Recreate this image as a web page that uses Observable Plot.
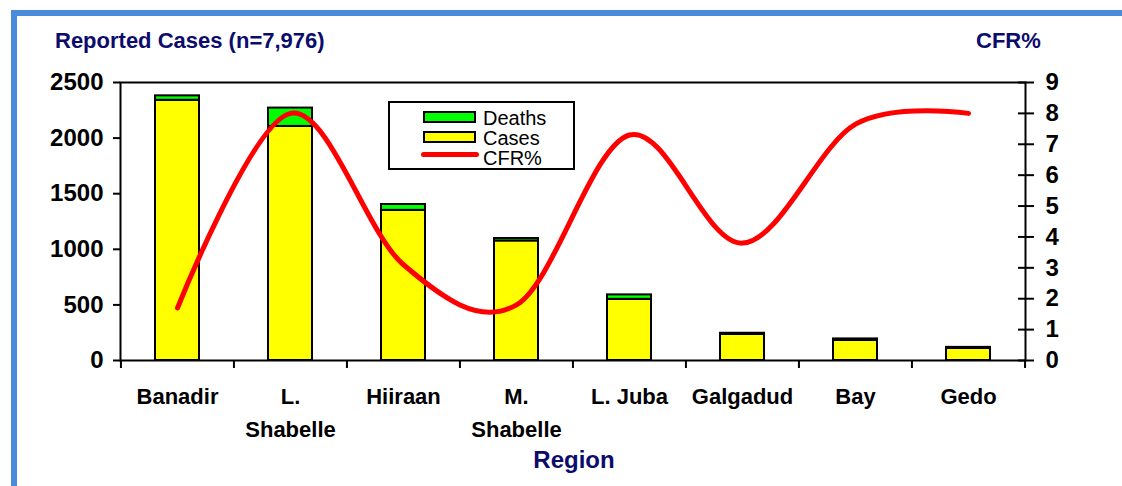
<!DOCTYPE html>
<html>
<head>
<meta charset="utf-8">
<script src="https://cdn.jsdelivr.net/npm/d3@7"></script>
<script src="https://cdn.jsdelivr.net/npm/@observablehq/plot@0.6"></script>
<style>
  html, body { margin: 0; padding: 0; width: 1122px; height: 486px; overflow: hidden; background: #fff; }
  #wrap { position: relative; width: 1122px; height: 486px; font-family: "Liberation Sans", Arial, sans-serif; }
  #frameblue { position: absolute; left: 11px; top: 10px; width: 2000px; height: 2000px; border-left: 6px solid #4a8bdb; border-top: 6px solid #4a8bdb; }
  #chart { position: absolute; left: 0; top: 0; }
  .title { position: absolute; font-weight: bold; color: #0c0c6c; line-height: 1; white-space: nowrap; }
  #legend { position: absolute; left: 388px; top: 101px; width: 183px; height: 65px; border: 2px solid #000; background: #fff; }
  .sw { position: absolute; left: 33px; width: 49px; height: 8px; border: 2px solid #000; }
  .lt { position: absolute; left: 93px; font-size: 20px; line-height: 1; color: #000; }
</style>
</head>
<body>
<div id="wrap">
  <div id="frameblue"></div>
  <div id="chart"></div>
  <div class="title" style="left:55px; top:30px; font-size:22px;">Reported Cases (n=7,976)</div>
  <div class="title" style="left:976px; top:30px; font-size:22px;">CFR%</div>
  <div class="title" style="left:574px; top:448px; font-size:24px; transform: translateX(-50%);">Region</div>
  <div id="legend">
    <div class="sw" style="top:8px; background:#00ff00;"></div>
    <div class="lt" style="top:5px;">Deaths</div>
    <div class="sw" style="top:28px; background:#ffff00;"></div>
    <div class="sw" style="top:49px; height:0; border:0; border-top:5px solid #ff0000; border-radius:3px; left:31px; width:58px;"></div>
    <div class="lt" style="top:25px;">Cases</div>
    <div class="lt" style="top:45px;">CFR%</div>
  </div>
</div>
<script>
// ---- data ----
const regions = ["Banadir", "L. Shabelle", "Hiiraan", "M. Shabelle", "L. Juba", "Galgadud", "Bay", "Gedo"];
const regionLabels = ["Banadir", "L.\nShabelle", "Hiiraan", "M.\nShabelle", "L. Juba", "Galgadud", "Bay", "Gedo"];
const cases  = [2340, 2105, 1350, 1075, 550, 234, 180, 108];
const deaths = [40, 165, 53, 22, 40, 11, 14, 10];
const cfr    = [1.7, 8.0, 3.1, 1.8, 7.3, 3.8, 7.65, 8.0];
const casesTicks = [0, 500, 1000, 1500, 2000, 2500];
const cfrTicks = [0, 1, 2, 3, 4, 5, 6, 7, 8, 9];
const casesMax = 2500, cfrMax = 9;

const rows = regions.map((r, i) => ({region: r, label: regionLabels[i], cases: cases[i], deaths: deaths[i], cfr: cfr[i]}));
const labelOf = new Map(regions.map((r, i) => [r, regionLabels[i]]));
const toCases = v => v * casesMax / cfrMax;

const W = 1122, H = 486, ML = 120, MR = 97, MT = 82, MB = 126;
const step = (W - ML - MR) / regions.length;

const plot = Plot.plot({
  width: W, height: H,
  marginLeft: ML, marginRight: MR, marginTop: MT, marginBottom: MB,
  style: {fontFamily: "'Liberation Sans', Arial, sans-serif", fontWeight: "bold", color: "#000", background: "transparent", overflow: "visible"},
  x: {domain: regions, paddingInner: 0.61, paddingOuter: 0.305, axis: null},
  y: {domain: [0, casesMax], axis: null},
  marks: [
    Plot.frame({stroke: "#000", strokeWidth: 2}),
    Plot.barY(rows, {x: "region", y1: 0, y2: "cases", fill: "#ffff00", stroke: "#000", strokeWidth: 2}),
    Plot.barY(rows, {x: "region", y1: "cases", y2: d => d.cases + d.deaths, fill: "#00ff00", stroke: "#000", strokeWidth: 2}),
    Plot.axisY({anchor: "left", label: null, ticks: casesTicks, tickFormat: d => String(d), tickSize: 7, tickPadding: 10, fontSize: 24, fontWeight: "bold", strokeWidth: 2}),
    Plot.axisY({anchor: "right", label: null, ticks: cfrTicks.map(toCases), tickFormat: d => String(Math.round(d * cfrMax / casesMax)), tickSize: 8, tickPadding: 12, fontSize: 24, fontWeight: "bold", strokeWidth: 2}),
    Plot.axisY({anchor: "right", label: null, ticks: cfrTicks.map(toCases), tickFormat: () => "", tickSize: -8, tickPadding: 0, strokeWidth: 2}),
    Plot.axisX({anchor: "bottom", label: null, tickSize: 0, tickPadding: 20, lineHeight: 1.5, fontSize: 22, fontWeight: "bold", tickFormat: d => labelOf.get(d)}),
    Plot.ruleX(regions, {x: d => d, dx: -step / 2, y1: 0, y2: 0, insetTop: 8, stroke: "#000", strokeWidth: 2}),
    Plot.ruleX([regions[regions.length - 1]], {x: d => d, dx: step / 2, y1: 0, y2: 0, insetTop: 8, stroke: "#000", strokeWidth: 2}),
    Plot.line(rows, {x: "region", y: d => toCases(d.cfr), stroke: "#ff0000", strokeWidth: 5, curve: "cardinal", strokeLinejoin: "round", strokeLinecap: "round"})
  ]
});
document.getElementById("chart").appendChild(plot);
</script>
</body>
</html>
